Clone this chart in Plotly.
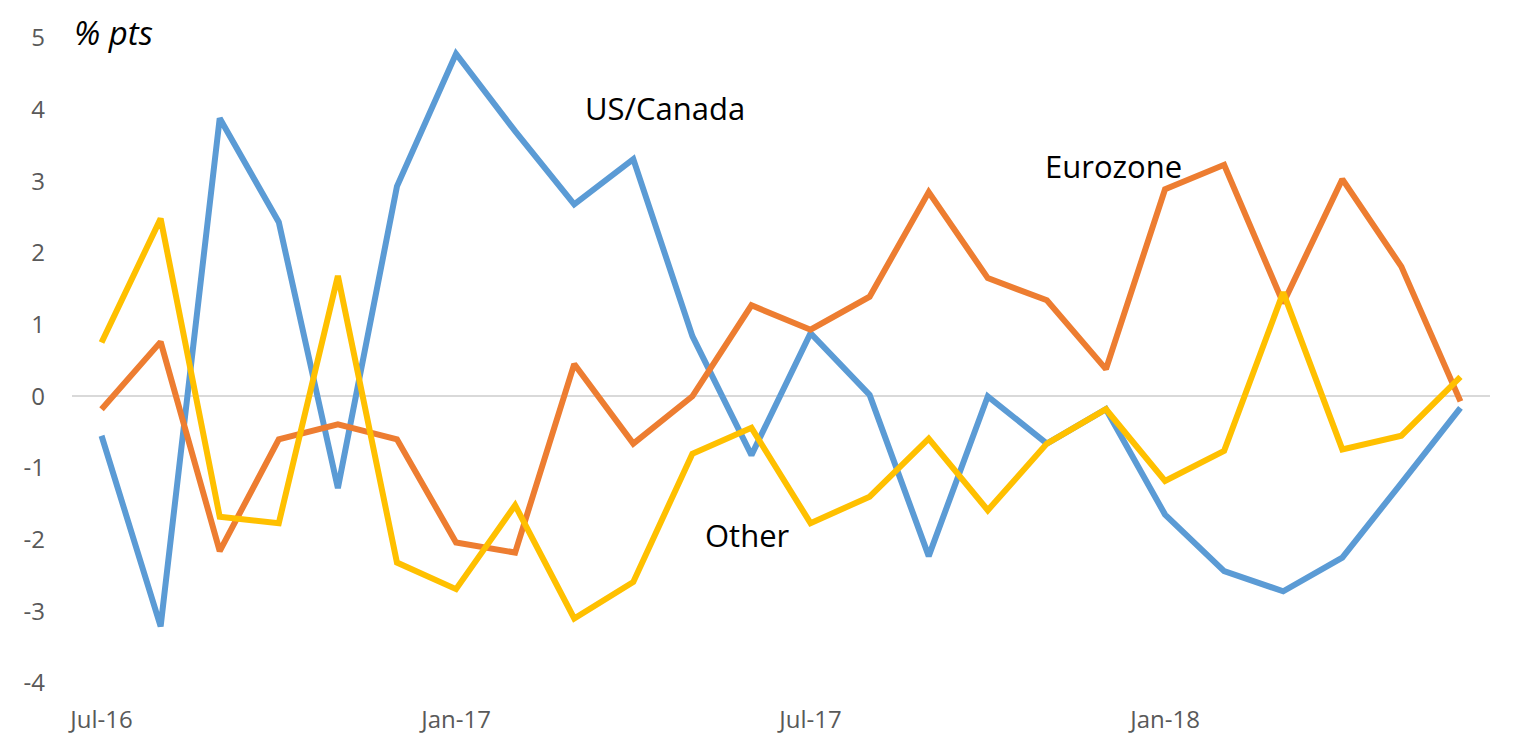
import plotly.graph_objects as go

months = ["Jul-16", "Aug-16", "Sep-16", "Oct-16", "Nov-16", "Dec-16",
          "Jan-17", "Feb-17", "Mar-17", "Apr-17", "May-17", "Jun-17",
          "Jul-17", "Aug-17", "Sep-17", "Oct-17", "Nov-17", "Dec-17",
          "Jan-18", "Feb-18", "Mar-18", "Apr-18", "May-18", "Jun-18"]

us_canada = [-0.55, -3.21, 3.88, 2.43, -1.28, 2.93, 4.78, 3.7, 2.68, 3.31, 0.84, -0.82,
             0.88, 0.02, -2.23, 0.0, -0.66, -0.18, -1.65, -2.44, -2.72, -2.25, -1.21, -0.16]
eurozone = [-0.18, 0.76, -2.16, -0.6, -0.39, -0.6, -2.04, -2.18, 0.45, -0.66, 0.0, 1.27,
            0.93, 1.39, 2.85, 1.65, 1.34, 0.38, 2.89, 3.23, 1.3, 3.03, 1.81, -0.07]
other = [0.75, 2.48, -1.68, -1.77, 1.68, -2.32, -2.69, -1.52, -3.1, -2.59, -0.8, -0.44,
         -1.77, -1.4, -0.59, -1.59, -0.66, -0.18, -1.18, -0.76, 1.45, -0.74, -0.55, 0.27]

x_ticks = ["Jul-16", "Jan-17", "Jul-17", "Jan-18"]
y_ticks = [-4, -3, -2, -1, 0, 1, 2, 3, 4, 5]
y_ticktext = ["-4", "-3", "-2", "-1", "0", "1", "2", "3", "4", "5"]

fig = go.Figure()
fig.add_trace(go.Scatter(x=months, y=us_canada, mode="lines", name="US/Canada",
                         line=dict(color="#5B9BD5", width=6)))
fig.add_trace(go.Scatter(x=months, y=eurozone, mode="lines", name="Eurozone",
                         line=dict(color="#ED7D31", width=6)))
fig.add_trace(go.Scatter(x=months, y=other, mode="lines", name="Other",
                         line=dict(color="#FFC000", width=6)))

# series labels sit on the chart instead of a legend
label_font = dict(family="Open Sans", size=31, color="#000000")
fig.add_annotation(x=9.53, y=4.02, text="US/Canada", showarrow=False, font=label_font)
fig.add_annotation(x=17.12, y=3.22, text="Eurozone", showarrow=False, font=label_font)
fig.add_annotation(x=10.93, y=-1.94, text="Other", showarrow=False, font=label_font)
fig.add_annotation(x=0.0, y=1.0, xref="paper", yref="paper", xanchor="left",
                   yanchor="middle", yshift=6, text="<i>% pts</i>", showarrow=False,
                   font=dict(family="Open Sans", size=33, color="#000000"))

fig.update_layout(
    width=1518, height=750,
    margin=dict(l=64, r=36, t=22, b=75),
    plot_bgcolor="white", paper_bgcolor="white",
    showlegend=False,
    font=dict(family="Open Sans", color="#595959", size=24),
)
fig.update_xaxes(type="category", range=[-0.5, 23.5], tickvals=x_ticks,
                 showgrid=False, zeroline=False, showline=False, ticks="",
                 ticklabelstandoff=20, tickfont=dict(size=24, color="#595959"))
fig.update_yaxes(range=[-4, 5], tickvals=y_ticks, ticktext=y_ticktext, showgrid=False,
                 zeroline=True, zerolinecolor="#D9D9D9", zerolinewidth=1.5,
                 showline=False, ticks="", ticklabelstandoff=26,
                 tickfont=dict(size=24, color="#595959"))

fig.write_html("out.html")
